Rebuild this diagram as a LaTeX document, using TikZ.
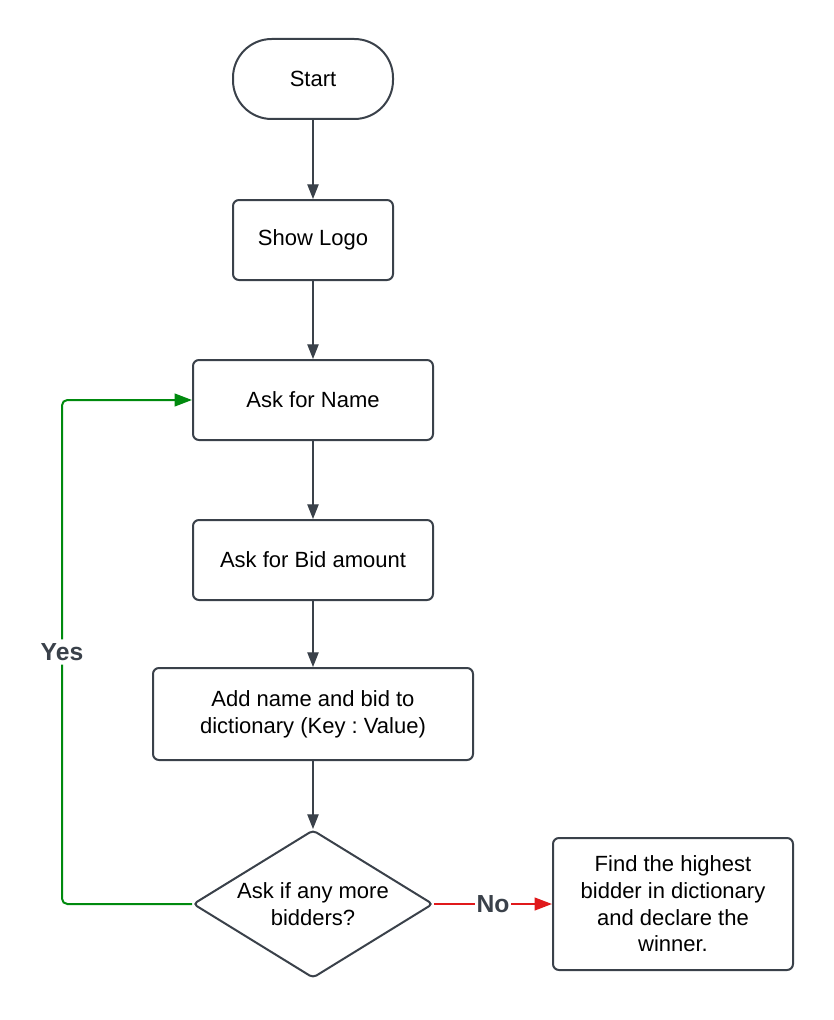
\documentclass[tikz,border=0pt]{standalone}
\usepackage{fontspec}
\setmainfont{Liberation Sans}
\usetikzlibrary{shapes.geometric, arrows.meta}
\frenchspacing

\definecolor{edgegray}{HTML}{3A414A}
\definecolor{yesgreen}{HTML}{008A0E}
\definecolor{nored}{HTML}{E0191B}

\tikzset{
	box/.style={draw=edgegray, line width=1.5pt, rounded corners=4.5pt, align=center,
		font=\fontsize{16.5}{20}\selectfont},
	flow/.style={draw=edgegray, line width=0.9pt, -{Triangle[length=11pt,width=8.5pt]}},
	label/.style={fill=white, inner sep=1pt, text=edgegray, font=\bfseries\fontsize{18.5}{20}\selectfont},
}

\begin{document}
\begin{tikzpicture}[x=0.75pt, y=-0.75pt]
	\useasboundingbox (0,0) rectangle (833,1020);
	
	% boxes
	\node[box, minimum width=120pt, minimum height=60pt, rounded corners=29pt] (start) at (313,79) {Start};
	\node[box, minimum width=120pt, minimum height=60pt] (logo) at (313,240) {Show Logo};
	\node[box, minimum width=180pt, minimum height=60pt] (name) at (313,400) {Ask for Name};
	\node[box, minimum width=180pt, minimum height=60pt] (bid) at (313,560) {Ask for Bid amount};
	\node[box, minimum width=240pt, minimum height=69pt] (dict) at (313,714) {Add name and bid to\\dictionary (Key : Value)};
	\node[box, diamond, inner sep=-3pt, aspect=1.62, minimum width=180pt, minimum height=111pt, rounded corners=3pt] (more) at (313,904) {Ask if any more\\bidders?};
	\node[box, minimum width=180pt, minimum height=99pt] (winner) at (673,904) {Find the highest\\bidder in dictionary\\and declare the\\winner.};
	
	% arrows
	\draw[flow] (start) -- (logo);
	\draw[flow] (logo) -- (name);
	\draw[flow] (name) -- (bid);
	\draw[flow] (bid) -- (dict);
	\draw[flow] (dict) -- (more);
	
	\draw[flow, draw=yesgreen, line width=1.5pt, rounded corners=4pt, -{Triangle[length=13pt,width=9.5pt]}]
		(more.west) -- ++(-130,0) |- node[label, pos=0.25, inner sep=3pt] {Yes} (name.west);
	\draw[flow, draw=nored, line width=1.5pt, -{Triangle[length=13pt,width=9.5pt]}]
		(more.east) -- node[label] {No} (winner.west);
	
\end{tikzpicture}
\end{document}
